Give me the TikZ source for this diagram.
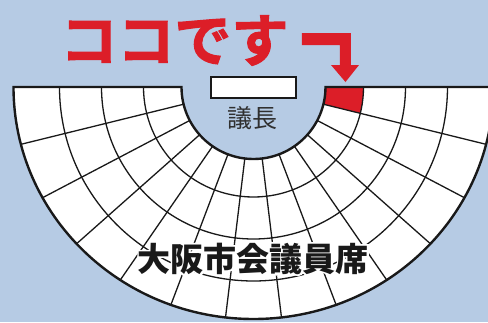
\documentclass[tikz,border=0pt]{standalone}
\usepackage{fontspec}
\usetikzlibrary{calc}
\newfontfamily\jp{Noto Sans CJK JP}
\newfontfamily\jphalo[FakeBold=12]{Noto Sans CJK JP Bold}
\newfontfamily\jpheavy[FakeBold=2]{Noto Sans CJK JP Bold}
\definecolor{bgblue}{RGB}{182,203,228}
\definecolor{seatred}{RGB}{220,30,40}
\definecolor{ink}{RGB}{25,25,25}
\begin{document}
\begin{tikzpicture}[x=1pt,y=1pt,
  gridline/.style={line width=1.3pt, draw=ink},
  outline/.style={line width=2.4pt, draw=ink, line join=miter},
  seatfill/.style={fill=seatred},
  hallabel/.style={font=\jp\bfseries\fontsize{33}{33}\selectfont, text=ink, inner sep=0pt},
  halo/.style={font=\jphalo\fontsize{33}{33}\selectfont, text=white, inner sep=0pt},
  chairlabel/.style={font=\jp\fontsize{25}{25}\selectfont, text=ink!90, inner sep=0pt},
  herelabel/.style={font=\jpheavy\fontsize{57}{57}\selectfont, text=seatred, inner sep=0pt},
  desk/.style={draw=ink, line width=2pt, fill=white}]
\useasboundingbox (-253.5,-235) rectangle (234.5,87);
\fill[bgblue] (-253.5,-235) rectangle (234.5,87);
\def\hall{(-240,0) -- (-72,0) arc[start angle=180,end angle=360,radius=72] -- (240,0) arc[start angle=0,end angle=-180,x radius=240,y radius=232] -- cycle}
\fill[white] \hall;
% highlighted seat
\fill[seatfill] (0:72) -- (0:110) arc[start angle=0,end angle=-13.846,radius=110] -- (-13.846:72) arc[start angle=-13.846,end angle=0,radius=72] -- cycle;
\begin{scope}
  \clip \hall;
  \foreach \r in {110,152,194}
    \draw[gridline] (-\r,0) arc[start angle=180,end angle=360,radius=\r];
  \foreach \k [evaluate=\k as \ang using 180+\k*180/13] in {1,...,12}
    \draw[gridline] (\ang:72) -- (\ang:300);
\end{scope}
\draw[outline] \hall;
% chair desk
\node[desk, minimum width=85pt, minimum height=21pt, inner sep=0pt] (desk) at (0,-0.5) {};
\node[chairlabel] (chair) at (-1,-31.5) {議長};
% hall label with white halo
\node[halo] (hallhalo) at (-0.5,-171.5) {大阪市会議員席};
\node[hallabel] (hall) at (-0.5,-171.5) {大阪市会議員席};
% here label and arrow
\node[herelabel] (here) at (-79,46.5) {ココです};
\fill[seatred] (48.5,54) -- (97.5,54) -- (97.5,22) -- (105.5,22) -- (92,5) -- (77.5,22) -- (86.5,22) -- (86.5,42) -- (48.5,42) -- cycle;
\end{tikzpicture}
\end{document}
